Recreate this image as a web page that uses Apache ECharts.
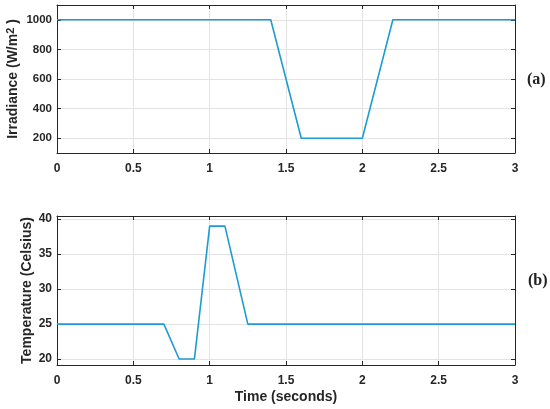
<!DOCTYPE html>
<html>
<head>
<meta charset="utf-8">
<script src="https://cdn.jsdelivr.net/npm/echarts@6/dist/echarts.min.js"></script>
<style>html,body{margin:0;padding:0;background:#fff}#c{width:550px;height:409px}</style>
</head>
<body>
<div id="c"></div>
<script>
// Irradiance (panel a)
const irrTime = [0, 1.4, 1.6, 2.0, 2.2, 3.0];
const irrValue = [1000, 1000, 200, 200, 1000, 1000];
// Temperature (panel b)
const tempTime = [0, 0.7, 0.8, 0.9, 1.0, 1.1, 1.25, 3.0];
const tempValue = [25, 25, 20, 20, 39, 39, 25, 25];
// tick labels
const xTicks = [0, 0.5, 1, 1.5, 2, 2.5, 3];
const irrTicks = [200, 400, 600, 800, 1000];
const tempTicks = [20, 25, 30, 35, 40];

const chart = echarts.init(document.getElementById('c'), null, {renderer: 'canvas'});
const axisCol = '#262626';
const gridCol = '#e3e3e3';
const ff = 'Liberation Sans, Arial, sans-serif';
const lblFont = {color: '#262626', fontWeight: 'bold', fontSize: 12, fontFamily: ff, formatter: v => String(v)};

function xAx(gi, name, pos, show) {
  return {
    type: 'value', gridIndex: gi, min: 0, max: 3, interval: 0.5, position: pos,
    name: name, nameLocation: 'middle', nameGap: 25, nameMoveOverlap: false,
    nameTextStyle: {color: '#262626', fontWeight: 'bold', fontSize: 14, fontFamily: ff},
    axisLine: {show: true, onZero: false, lineStyle: {color: axisCol, width: 1}},
    axisTick: {show: true, inside: true, length: 4, lineStyle: {color: axisCol}},
    axisLabel: Object.assign({show: show, margin: 10}, lblFont),
    splitLine: {show: show, lineStyle: {color: gridCol, width: 1}}
  };
}
function yAx(gi, min, max, ticks, name, gap, pos, show, fs) {
  return {
    type: 'value', gridIndex: gi, min: min, max: max, position: pos,
    name: name, nameLocation: 'middle', nameGap: gap, nameRotate: 90, nameMoveOverlap: false,
    nameTextStyle: {color: '#262626', fontWeight: 'bold', fontSize: 14, fontFamily: ff,
      rich: {a: {fontWeight: 'bold', fontSize: 14, color: '#262626', fontFamily: ff},
             s: {fontWeight: 'bold', fontSize: 11, color: '#262626', verticalAlign: 'top', padding: [0, 0, 6, 0], fontFamily: ff}}},
    axisLine: {show: true, onZero: false, lineStyle: {color: axisCol, width: 1}},
    axisTick: {show: true, inside: true, length: 4, customValues: ticks, lineStyle: {color: axisCol}},
    axisLabel: Object.assign({}, lblFont, {show: show, margin: 5, customValues: ticks, fontSize: fs}),
    splitLine: {show: show, lineStyle: {color: gridCol, width: 1}}
  };
}

const option = {
  animation: false,
  grid: [
    {left: 57, right: 35, top: 5, height: 148, containLabel: false, outerBoundsMode: 'none'},
    {left: 57, right: 35, top: 216, height: 149, containLabel: false, outerBoundsMode: 'none'}
  ],
  xAxis: [
    xAx(0, '', 'bottom', true),
    xAx(0, '', 'top', false),
    xAx(1, 'Time (seconds)', 'bottom', true),
    xAx(1, '', 'top', false)
  ],
  yAxis: [
    yAx(0, 100, 1100, irrTicks, '{a|Irradiance (W/m}{s|2}{a| )}', 35, 'left', true, 11.5),
    yAx(0, 100, 1100, irrTicks, '', 0, 'right', false, 11.5),
    yAx(1, 19.15, 40.45, tempTicks, 'Temperature (Celsius)', 23, 'left', true, 12),
    yAx(1, 19.15, 40.45, tempTicks, '', 0, 'right', false, 12)
  ],
  graphic: [
    {type: 'text', left: 527, top: 72, style: {text: '(a)', font: 'bold 16px "Liberation Serif", "DejaVu Serif", serif', fill: '#222'}},
    {type: 'text', left: 528, top: 273, style: {text: '(b)', font: 'bold 16px "Liberation Serif", "DejaVu Serif", serif', fill: '#222'}}
  ],
  series: [
    {type: 'line', xAxisIndex: 0, yAxisIndex: 0, showSymbol: false, data: irrTime.map((t, i) => [t, irrValue[i]]),
     lineStyle: {color: '#1f9bd3', width: 1.6}, itemStyle: {color: '#1f9bd3'}},
    {type: 'line', xAxisIndex: 2, yAxisIndex: 2, showSymbol: false, data: tempTime.map((t, i) => [t, tempValue[i]]),
     lineStyle: {color: '#1f9bd3', width: 1.6}, itemStyle: {color: '#1f9bd3'}}
  ]
};
chart.setOption(option);
</script>
</body>
</html>
